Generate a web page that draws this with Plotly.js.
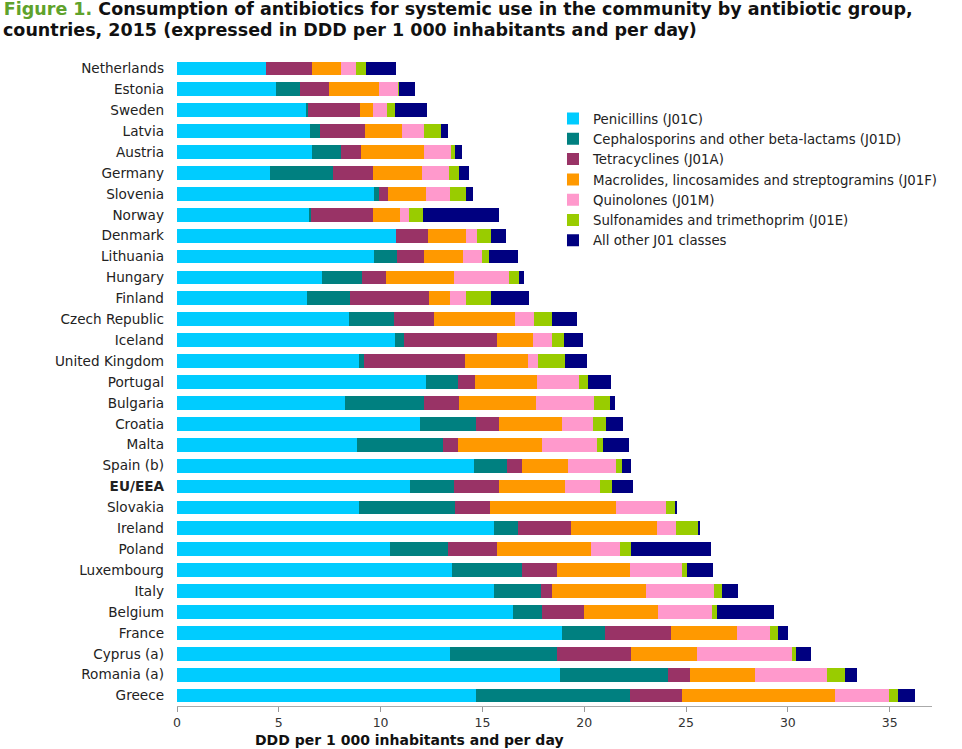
<!DOCTYPE html>
<html>
<head>
<meta charset="utf-8">
<script src="https://cdn.plot.ly/plotly-3.0.1.min.js"></script>
<style>html,body{margin:0;padding:0;background:#fff}#chart{width:962px;height:749px}</style>
</head>
<body>
<div id="chart"></div>
<script>
const countries = ["Netherlands","Estonia","Sweden","Latvia","Austria","Germany","Slovenia","Norway","Denmark","Lithuania","Hungary","Finland","Czech Republic","Iceland","United Kingdom","Portugal","Bulgaria","Croatia","Malta","Spain (b)","EU/EEA","Slovakia","Ireland","Poland","Luxembourg","Italy","Belgium","France","Cyprus (a)","Romania (a)","Greece"];
const penicillins =    [4.39,4.85,6.34,6.53,6.63,4.57,9.66,6.50,10.74,9.66,7.12,6.39,8.45,10.72,8.94,12.23,8.25,11.94,8.84,14.57,11.44,8.92,15.58,10.46,13.51,15.57,16.49,18.89,13.41,18.81,14.69];
const cephalosporins = [0.00,1.19,0.11,0.51,1.44,3.11,0.28,0.07,0.02,1.13,1.95,2.09,2.21,0.43,0.23,1.57,3.88,2.75,4.21,1.62,2.15,4.75,1.17,2.85,3.45,2.29,1.45,2.12,5.27,5.29,7.54];
const tetracyclines =  [2.24,1.43,2.54,2.19,0.97,1.95,0.42,3.06,1.57,1.34,1.21,3.90,1.96,4.58,4.98,0.82,1.70,1.13,0.75,0.74,2.23,1.70,2.60,2.41,1.69,0.56,2.03,3.25,3.60,1.10,2.57];
const macrolides =     [1.43,2.45,0.62,1.84,3.11,2.40,1.87,1.32,1.87,1.92,3.31,1.03,4.00,1.74,3.11,3.06,3.80,3.09,4.13,2.26,3.22,6.21,4.23,4.61,3.62,4.63,3.67,3.24,3.26,3.19,7.52];
const quinolones =     [0.75,0.95,0.69,1.06,1.31,1.31,1.16,0.46,0.51,0.93,2.72,0.77,0.93,0.95,0.46,2.06,2.87,1.52,2.71,2.37,1.75,2.42,0.94,1.41,2.52,3.34,2.64,1.63,4.67,3.52,2.67];
const sulfonamides =   [0.46,0.03,0.41,0.82,0.18,0.49,0.79,0.67,0.72,0.34,0.50,1.24,0.88,0.57,1.32,0.45,0.78,0.63,0.27,0.28,0.59,0.46,1.05,0.57,0.27,0.36,0.23,0.40,0.19,0.90,0.41];
const otherJ01 =       [1.49,0.79,1.57,0.38,0.36,0.53,0.37,3.75,0.75,1.45,0.23,1.87,1.20,0.97,1.11,1.11,0.22,0.85,1.31,0.46,1.03,0.08,0.12,3.92,1.28,0.82,2.81,0.48,0.74,0.59,0.85];
const seriesNames = ["Penicillins (J01C)","Cephalosporins and other beta-lactams (J01D)","Tetracyclines (J01A)","Macrolides, lincosamides and streptogramins (J01F)","Quinolones (J01M)","Sulfonamides and trimethoprim (J01E)","All other J01 classes"];
const xTicks = [0,5,10,15,20,25,30,35];

const colors = ["#00CCFF","#008080","#993366","#FF9900","#FF99CC","#99CC00","#000080"];
const allSeries = [penicillins,cephalosporins,tetracyclines,macrolides,quinolones,sulfonamides,otherJ01];
const font = "DejaVu Sans, Verdana, sans-serif";

const traces = allSeries.map((vals,i)=>({
  type:"bar", orientation:"h", name:seriesNames[i], y:countries, x:vals,
  marker:{color:colors[i], line:{width:0}}, hoverinfo:"x+name"
}));

const layout = {
  width:962, height:749,
  paper_bgcolor:"#fff", plot_bgcolor:"#fff",
  barmode:"stack", bargap:0.34,
  margin:{l:177,r:30,t:58,b:43},
  font:{family:font, size:12, color:"#222"},
  title:{
    text:'<span style="color:#5FA22C">Figure 1.</span> Consumption of antibiotics for systemic use in the community by antibiotic group,',
    font:{family:font, size:17.5, color:"#111", weight:"bold"},
    x:0.004, xanchor:"left", xref:"container", y:0.988, yanchor:"middle", yref:"container"
  },
  xaxis:{
    range:[0,37.08], tickvals:xTicks, ticks:"outside", ticklen:5, tickcolor:"#999",
    showline:true, linecolor:"#aaa", linewidth:1, showgrid:false, zeroline:false,
    tickfont:{family:font, size:12.5, color:"#333"}, fixedrange:true
  },
  yaxis:{
    autorange:"reversed", tickvals:countries,
    ticktext:countries.map(c=>c==="EU/EEA"?"<b>"+c+"</b>":c),
    showline:false, showgrid:false, zeroline:false, ticks:"", ticklabelstandoff:12,
    tickfont:{family:font, size:13.6, color:"#222"}, fixedrange:true
  },
  legend:{
    x:0.498, xanchor:"left", y:0.930, yanchor:"top", traceorder:"normal",
    bgcolor:"rgba(0,0,0,0)", font:{family:font, size:13.3, color:"#222"},
    itemwidth:30, tracegroupgap:0
  },
  annotations:[{
    text:"<b>countries, 2015 (expressed in DDD per 1 000 inhabitants and per day)</b>",
    xref:"paper", yref:"paper", x:-0.233, xanchor:"left", y:1.0432, yanchor:"middle",
    showarrow:false, font:{family:font, size:17.5, color:"#111"}
  },{
    text:"<b>DDD per 1 000 inhabitants and per day</b>", xref:"paper", yref:"paper",
    x:0.101, xanchor:"left", y:-0.053, yanchor:"middle", showarrow:false,
    font:{family:font, size:14, color:"#111"}
  }],
  showlegend:true
};
Plotly.newPlot("chart", traces, layout, {displayModeBar:false, staticPlot:true});
</script>
</body>
</html>
